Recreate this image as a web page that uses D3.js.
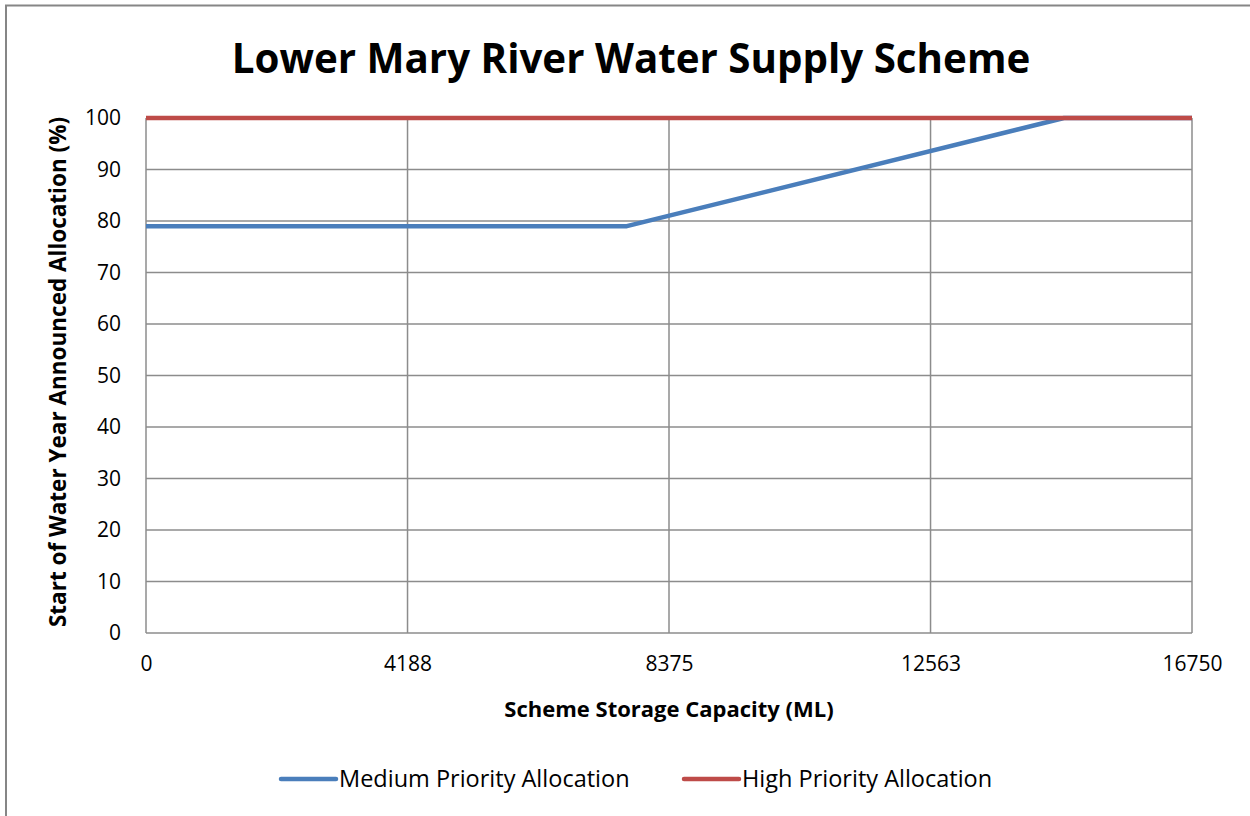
<!DOCTYPE html>
<html><head><meta charset="utf-8">
<script src="https://cdn.jsdelivr.net/npm/d3@7"></script>
<style>body{margin:0;background:#fff;} svg{display:block;font-family:"Open Sans",sans-serif;}</style>
</head><body>
<svg id="c" width="1250" height="816"></svg>
<script>
const xTicks = [0, 4188, 8375, 12563, 16750];
const yTicks = [0,10,20,30,40,50,60,70,80,90,100];
const mediumX = [0, 7700, 14700, 16750];
const mediumY = [79, 79, 100, 100];
const highX = [0, 16750];
const highY = [100, 100];
const seriesNames = ["Medium Priority Allocation", "High Priority Allocation"];
const seriesColors = ["#4a7ebb", "#be4b48"];

const FONT = "'Open Sans',sans-serif";
const svg = d3.select("#c");
svg.append("rect").attr("x",6).attr("y",5.5).attr("width",1300).attr("height",900)
  .attr("fill","#fff").attr("stroke","#868686").attr("stroke-width",2);

const x = d3.scaleLinear().domain([0,16750]).range([146,1192]);
const y = d3.scaleLinear().domain([0,100]).range([633,118]);

// gridlines
svg.append("g").selectAll("line").data(yTicks).join("line")
  .attr("x1",x(0)).attr("x2",x(16750)).attr("y1",d=>y(d)).attr("y2",d=>y(d))
  .attr("stroke","#8c8c8c").attr("stroke-width",1.5);
svg.append("g").selectAll("line").data(xTicks).join("line")
  .attr("x1",d=>x(d)).attr("x2",d=>x(d)).attr("y1",y(0)).attr("y2",y(100))
  .attr("stroke","#8c8c8c").attr("stroke-width",1.5);

// axes labels
const yAxis = d3.axisLeft(y).tickValues(yTicks).tickSize(0).tickPadding(0);
const gy = svg.append("g").attr("transform","translate(121,0)").call(yAxis);
gy.select(".domain").remove();
gy.selectAll("text").attr("font-size",21).attr("fill","#000").attr("font-family",FONT);

const xAxis = d3.axisBottom(x).tickValues(xTicks).tickFormat(d=>String(d)).tickSize(0).tickPadding(0);
const gx = svg.append("g").attr("transform","translate(0,656)").call(xAxis);
gx.select(".domain").remove();
gx.selectAll("text").attr("font-size",21).attr("fill","#000").attr("font-family",FONT);

// lines
const line = d3.line().x(d=>x(d[0])).y(d=>y(d[1]));
const med = mediumX.map((v,i)=>[v,mediumY[i]]);
const high = highX.map((v,i)=>[v,highY[i]]);
svg.append("path").attr("d",line(med)).attr("fill","none").attr("stroke",seriesColors[0]).attr("stroke-width",4.5).attr("stroke-linejoin","round");
svg.append("path").attr("d",line(high)).attr("fill","none").attr("stroke",seriesColors[1]).attr("stroke-width",4.5);

// titles
svg.append("text").attr("x",631).attr("y",73).attr("text-anchor","middle")
  .attr("font-size",40.3).attr("font-weight","bold").text("Lower Mary River Water Supply Scheme");
svg.append("text").attr("x",669).attr("y",717).attr("text-anchor","middle")
  .attr("font-size",22).attr("font-weight","bold").text("Scheme Storage Capacity (ML)");
svg.append("text").attr("transform","translate(66,372) rotate(-90)").attr("text-anchor","middle")
  .attr("font-size",22.5).attr("font-weight","bold").text("Start of Water Year Announced Allocation (%)");

// legend
const lx = [281, 684];
seriesNames.forEach((n,i)=>{
  svg.append("line").attr("x1",lx[i]).attr("x2",lx[i]+55).attr("y1",779).attr("y2",779)
    .attr("stroke",seriesColors[i]).attr("stroke-width",4.5).attr("stroke-linecap","round");
  svg.append("text").attr("x",lx[i]+58).attr("y",787).attr("font-size",23.5).text(n);
});
</script>
</body></html>
